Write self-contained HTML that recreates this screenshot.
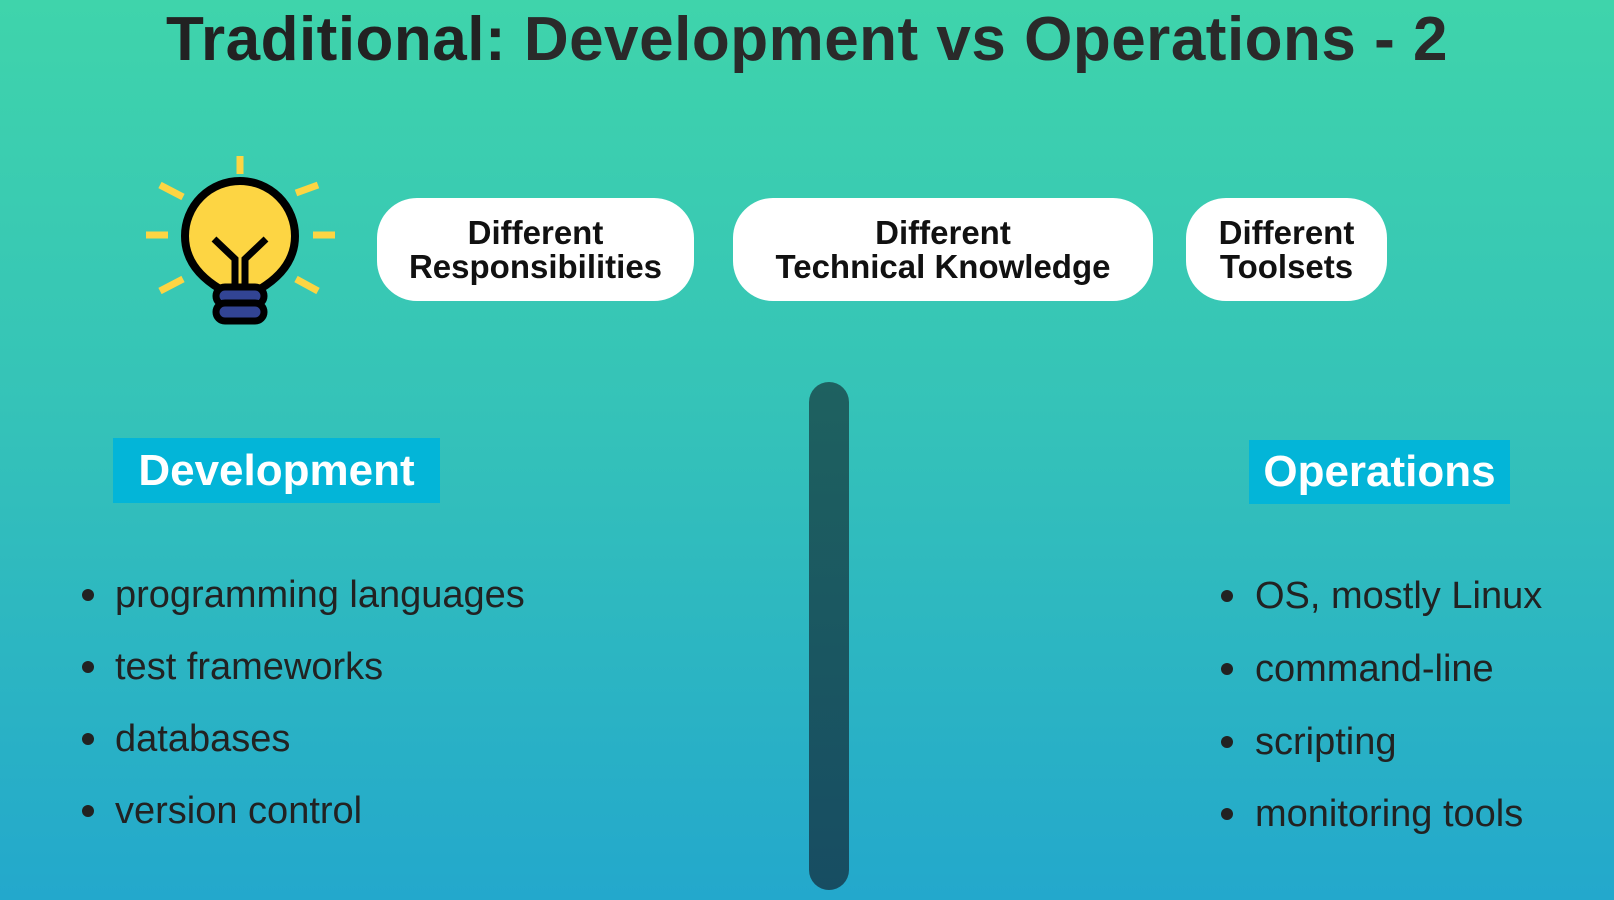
<!DOCTYPE html>
<html><head><meta charset="utf-8"><style>
*{margin:0;padding:0;box-sizing:border-box}
body{width:1614px;height:900px;overflow:hidden;position:relative;font-family:"Liberation Sans",sans-serif;background:linear-gradient(180deg,#3fd4ab 0%,#35c3b8 45%,#23a8cc 100%)}
.a{position:absolute}
.title{left:0;width:1614px;top:4px;text-align:center;font-size:62px;font-weight:bold;color:#222;letter-spacing:0.5px}
.pill{background:#fff;border-radius:40px;display:flex;align-items:center;justify-content:center;text-align:center;font-weight:bold;font-size:33px;line-height:34px;color:#111}
.lab{background:#03b5d8;color:#fff;font-weight:bold;font-size:44px;display:flex;align-items:center;justify-content:center}
.li{font-size:38px;color:#222;line-height:44px}
.dot{width:12px;height:12px;border-radius:50%;background:#222}
</style></head><body>
<div class="a title">Traditional: <span style="font-weight:bold;color:#2a2a2a">Development vs Operations - 2</span></div>

<svg class="a" style="left:140px;top:150px" width="200" height="180" viewBox="140 150 200 180">
<g stroke="#fdd543" stroke-width="7">
<line x1="240" y1="156" x2="240" y2="174"/>
<line x1="146" y1="235" x2="168" y2="235"/><line x1="313" y1="235" x2="335" y2="235"/>
<line x1="160" y1="185" x2="183" y2="197"/><line x1="318" y1="185" x2="296" y2="193"/>
<line x1="160" y1="291" x2="183" y2="279"/><line x1="318" y1="291" x2="296" y2="279"/>
</g>
<path d="M220 289 Q185 268 185 236 A55 55 0 1 1 295 236 Q295 268 260 289 Z" fill="#fdd543" stroke="#000" stroke-width="8" stroke-linejoin="round"/>
<path d="M214 239 L235 259 L235 287 M266 239 L245 259 L245 287" fill="none" stroke="#000" stroke-width="7"/>
<rect x="216" y="287" width="48" height="18" rx="9" fill="#324494" stroke="#000" stroke-width="7"/>
<rect x="216" y="303" width="48" height="18" rx="9" fill="#324494" stroke="#000" stroke-width="7"/>
</svg>

<div class="a pill" style="left:377px;top:198px;width:317px;height:103px">Different<br>Responsibilities</div>
<div class="a pill" style="left:733px;top:198px;width:420px;height:103px">Different<br>Technical Knowledge</div>
<div class="a pill" style="left:1186px;top:198px;width:201px;height:103px">Different<br>Toolsets</div>

<div class="a" style="left:809px;top:382px;width:40px;height:508px;border-radius:20px;background:linear-gradient(180deg,#1e6160,#174d62)"></div>

<div class="a lab" style="left:113px;top:438px;width:327px;height:65px">Development</div>
<div class="a lab" style="left:1249px;top:440px;width:261px;height:64px">Operations</div>

<div class="a dot" style="left:82px;top:589px"></div><div class="a li" style="left:115px;top:573px">programming languages</div>
<div class="a dot" style="left:82px;top:661px"></div><div class="a li" style="left:115px;top:645px">test frameworks</div>
<div class="a dot" style="left:82px;top:733px"></div><div class="a li" style="left:115px;top:717px">databases</div>
<div class="a dot" style="left:82px;top:805px"></div><div class="a li" style="left:115px;top:789px">version control</div>

<div class="a dot" style="left:1221px;top:590px"></div><div class="a li" style="left:1255px;top:574px">OS, mostly Linux</div>
<div class="a dot" style="left:1221px;top:663px"></div><div class="a li" style="left:1255px;top:647px">command-line</div>
<div class="a dot" style="left:1221px;top:736px"></div><div class="a li" style="left:1255px;top:720px">scripting</div>
<div class="a dot" style="left:1221px;top:808px"></div><div class="a li" style="left:1255px;top:792px">monitoring tools</div>
</body></html>
